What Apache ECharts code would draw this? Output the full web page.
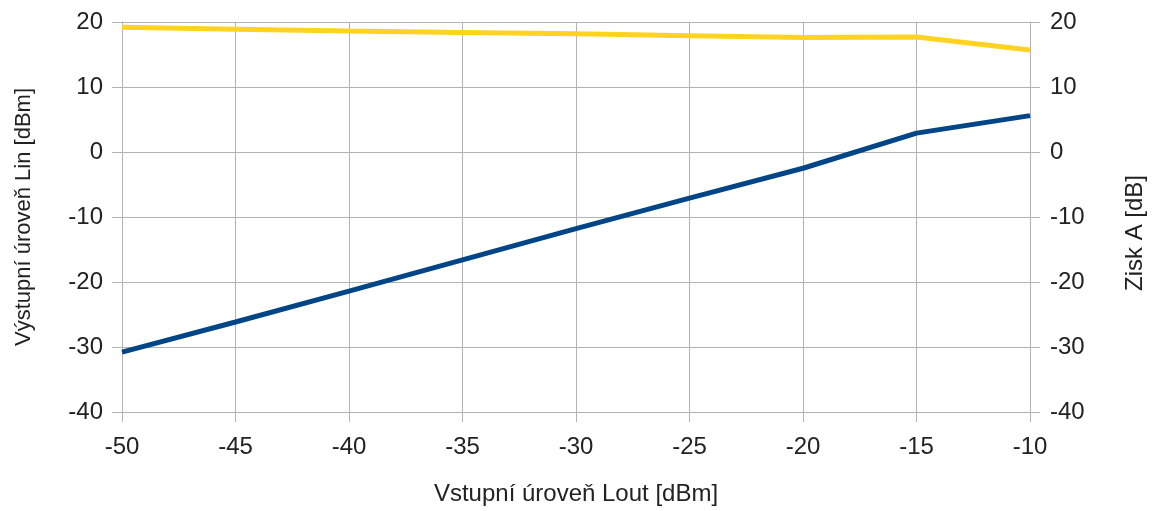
<!DOCTYPE html>
<html>
<head>
<meta charset="utf-8">
<script src="https://cdn.jsdelivr.net/npm/echarts@6/dist/echarts.min.js"></script>
<style>
html,body{margin:0;padding:0;background:#fff;}
#chart{width:1154px;height:511px;}
</style>
</head>
<body>
<div id="chart"></div>
<script>
const inputLevels = [-50, -45, -40, -35, -30, -25, -20, -15, -10];
const outputLevels = [-30.8, -26.15, -21.4, -16.6, -11.8, -7.1, -2.5, 2.9, 5.6];
const gainValues = [19.2, 18.9, 18.6, 18.4, 18.2, 17.9, 17.6, 17.7, 15.7];

const xName = 'Vstupní úroveň Lout [dBm]';
const yLeftName = 'Výstupní úroveň Lin [dBm]';
const yRightName = 'Zisk A [dB]';

const font = '"Liberation Sans", Arial, sans-serif';
const gridColor = '#b3b3b3';
const textColor = '#222';

const chart = echarts.init(document.getElementById('chart'), null, {renderer: 'canvas'});

const yAxisBase = {
  type: 'value', min: -40, max: 20, interval: 10,
  nameLocation: 'middle',
  nameTextStyle: {fontFamily: font, fontSize: 24, color: textColor},
  axisLine: {show: true, lineStyle: {color: gridColor, width: 1}},
  axisTick: {show: true, length: 10, lineStyle: {color: gridColor}},
  axisLabel: {fontFamily: font, fontSize: 24, color: textColor}
};

chart.setOption({
  animation: false,
  backgroundColor: '#fff',
  grid: {left: 122, right: 124, top: 22, bottom: 99, containLabel: false, outerBoundsMode: 'none'},
  xAxis: {
    type: 'value', min: -50, max: -10, interval: 5,
    name: xName, nameLocation: 'middle', nameGap: 70,
    nameTextStyle: {fontFamily: font, fontSize: 24, color: textColor},
    axisLine: {show: true, onZero: false, lineStyle: {color: gridColor}},
    axisTick: {show: true, length: 10, lineStyle: {color: gridColor}},
    axisLabel: {fontFamily: font, fontSize: 24, color: textColor, margin: 23},
    splitLine: {show: true, lineStyle: {color: gridColor, width: 1}}
  },
  yAxis: [
    Object.assign({}, yAxisBase, {
      position: 'left', name: yLeftName, nameGap: 87,
      nameTextStyle: {fontFamily: font, fontSize: 22, color: textColor},
      axisLabel: Object.assign({}, yAxisBase.axisLabel, {margin: 19}),
      splitLine: {show: true, lineStyle: {color: gridColor, width: 1}}
    }),
    Object.assign({}, yAxisBase, {
      position: 'right', name: yRightName, nameGap: 93,
      nameTextStyle: {fontFamily: font, fontSize: 24, color: textColor, padding: [0, 32, 0, 0]},
      axisLabel: Object.assign({}, yAxisBase.axisLabel, {margin: 20}),
      splitLine: {show: false}
    })
  ],
  series: [
    {
      type: 'line', yAxisIndex: 0, symbol: 'none',
      data: inputLevels.map((x, i) => [x, outputLevels[i]]),
      lineStyle: {color: '#004586', width: 5},
      itemStyle: {color: '#004586'}
    },
    {
      type: 'line', yAxisIndex: 1, symbol: 'none',
      data: inputLevels.map((x, i) => [x, gainValues[i]]),
      lineStyle: {color: '#ffd320', width: 5},
      itemStyle: {color: '#ffd320'}
    }
  ]
});
</script>
</body>
</html>
